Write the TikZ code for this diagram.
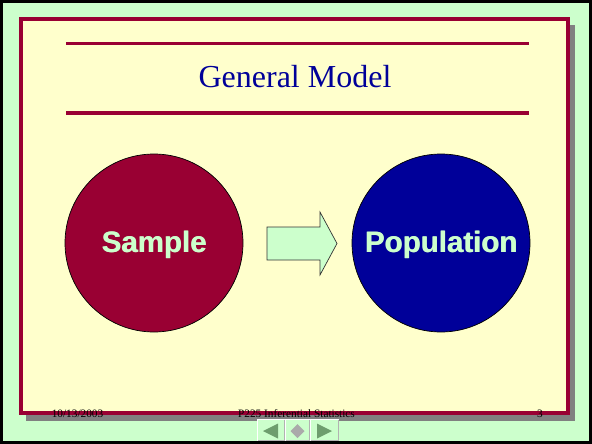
\documentclass[tikz,border=0pt]{standalone}
\usepackage{fontspec}
\setmainfont{Liberation Serif}
\newfontfamily\headsans{Liberation Sans}
\definecolor{slidegreen}{HTML}{CCFFCC}
\definecolor{slideyellow}{HTML}{FFFFCC}
\definecolor{maroon}{HTML}{990033}
\definecolor{navy}{HTML}{000099}
\definecolor{shadowgray}{HTML}{808080}
\definecolor{navgreen}{HTML}{6E9E6E}
\definecolor{navgray}{HTML}{AAAAAA}
\tikzset{
  rule/.style={draw=maroon, line width=3.5pt},
  bubble/.style={circle, draw=black, line width=0.7pt, minimum size=178pt, inner sep=0pt},
  bubbletext/.style={font=\headsans\bfseries\fontsize{29.5}{34}\selectfont, text=slidegreen},
  footer/.style={font=\fontsize{11.3}{13}\selectfont, text=black, anchor=base},
}
\begin{document}
\begin{tikzpicture}[x=1pt,y=-1pt]
\useasboundingbox (0,0) rectangle (592,444);
% slide background and frame
\fill[slidegreen] (0,0) rectangle (592,444);
\draw[black, line width=3pt] (1.5,1.5) rectangle (590.5,442.5);
% panel with drop shadow
\fill[shadowgray] (26,25) rectangle (575,421);
\draw[maroon, line width=4pt, fill=slideyellow] (21,19) rectangle (568,413);
% title rules and title
\draw[rule] (66,43.5) coordinate (r1a) -- (529,43.5) coordinate (r1b);
\draw[rule] (66,113) coordinate (r2a) -- (529,113) coordinate (r2b);
\node[font=\fontsize{32}{38}\selectfont, text=navy, anchor=base] (title) at (295,88) {General Model};
% the two circles
\node[bubble, fill=maroon] (sample) at (154,243) {};
\node[bubble, fill=navy] (population) at (441,243) {};
% labels, set twice with a tiny offset for a heavier stroke
\foreach \dx in {0,0.6}{
  \node[bubbletext] at ([xshift=\dx pt, yshift=-2pt]sample) {Sample};
  \node[bubbletext] at ([xshift=\dx pt, yshift=-2pt]population) {Population};
}
% block arrow between them
\draw[fill=slidegreen, draw=black!80, line width=0.7pt]
  (267,227) -- (320,227) -- (320,212) -- (337,243.5) -- (320,275) -- (320,260) -- (267,260) -- cycle;
% footer
\node[footer] (date) at (77.5,417) {10/13/2003};
\node[footer] (course) at (296.5,417) {P225 Inferential Statistics};
\node[footer] (page) at (540,417) {3};
% navigation buttons
\foreach \xa/\xb in {257/285, 285/310, 310/339}{
  \fill[slidegreen] (\xa,419) rectangle (\xb,441);
  \draw[white, line width=0.8pt] (\xa+0.5,440.5) -- (\xa+0.5,419.5) -- (\xb-0.5,419.5);
  \draw[black!30, line width=0.8pt] (\xb-0.5,419.5) -- (\xb-0.5,440.5) -- (\xa+0.5,440.5);
}
\fill[navgreen] (263,431) -- (278,423.5) -- (278,438.5) -- cycle;
\fill[navgray] (297.5,424) -- (304.5,431) -- (297.5,438) -- (290.5,431) -- cycle;
\fill[navgreen] (332,431) -- (317,423.5) -- (317,438.5) -- cycle;
\end{tikzpicture}
\end{document}
